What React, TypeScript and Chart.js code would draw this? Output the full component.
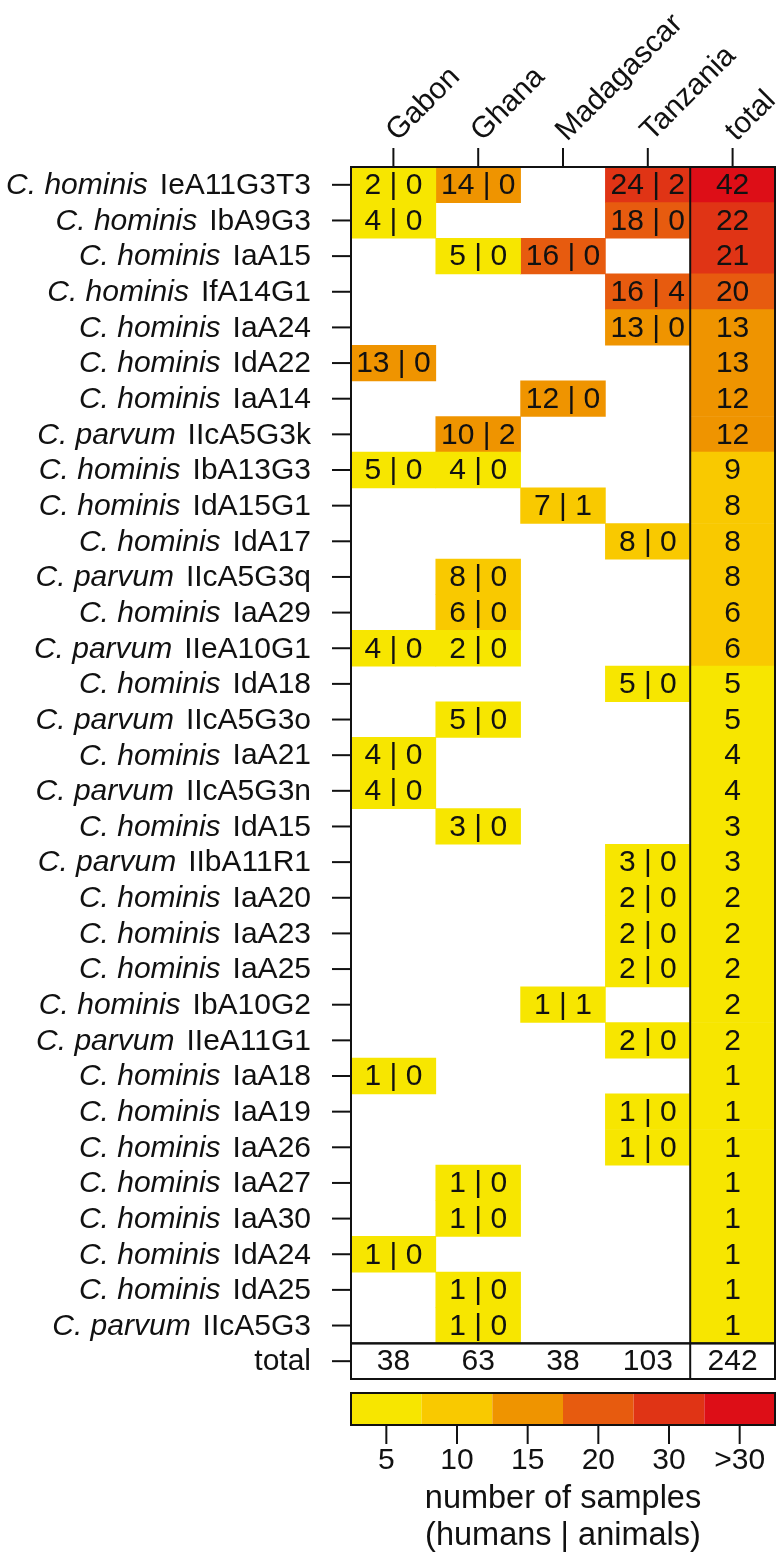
import React, { useEffect, useRef } from "react";
import { Chart, registerables } from "chart.js";

Chart.register(...registerables);

const _ = null;

const species = [
  "C. hominis", "C. hominis", "C. hominis", "C. hominis", "C. hominis", "C. hominis",
  "C. hominis", "C. parvum", "C. hominis", "C. hominis", "C. hominis", "C. parvum",
  "C. hominis", "C. parvum", "C. hominis", "C. parvum", "C. hominis", "C. parvum",
  "C. hominis", "C. parvum", "C. hominis", "C. hominis", "C. hominis", "C. hominis",
  "C. parvum", "C. hominis", "C. hominis", "C. hominis", "C. hominis", "C. hominis",
  "C. hominis", "C. hominis", "C. parvum",
];

const strains = [
  "IeA11G3T3", "IbA9G3", "IaA15", "IfA14G1", "IaA24", "IdA22",
  "IaA14", "IIcA5G3k", "IbA13G3", "IdA15G1", "IdA17", "IIcA5G3q",
  "IaA29", "IIeA10G1", "IdA18", "IIcA5G3o", "IaA21", "IIcA5G3n",
  "IdA15", "IIbA11R1", "IaA20", "IaA23", "IaA25", "IbA10G2",
  "IIeA11G1", "IaA18", "IaA19", "IaA26", "IaA27", "IaA30",
  "IdA24", "IdA25", "IIcA5G3",
];

const countries = ["Gabon", "Ghana", "Madagascar", "Tanzania"];

// [humans, animals] per strain row
const gabon = [
  [2, 0], [4, 0], _, _, _, [13, 0],
  _, _, [5, 0], _, _, _,
  _, [4, 0], _, _, [4, 0], [4, 0],
  _, _, _, _, _, _,
  _, [1, 0], _, _, _, _,
  [1, 0], _, _,
];
const ghana = [
  [14, 0], _, [5, 0], _, _, _,
  _, [10, 2], [4, 0], _, _, [8, 0],
  [6, 0], [2, 0], _, [5, 0], _, _,
  [3, 0], _, _, _, _, _,
  _, _, _, _, [1, 0], [1, 0],
  _, [1, 0], [1, 0],
];
const madagascar = [
  _, _, [16, 0], _, _, _,
  [12, 0], _, _, [7, 1], _, _,
  _, _, _, _, _, _,
  _, _, _, _, _, [1, 1],
  _, _, _, _, _, _,
  _, _, _,
];
const tanzania = [
  [24, 2], [18, 0], _, [16, 4], [13, 0], _,
  _, _, _, _, [8, 0], _,
  _, _, [5, 0], _, _, _,
  _, [3, 0], [2, 0], [2, 0], [2, 0], _,
  [2, 0], _, [1, 0], [1, 0], _, _,
  _, _, _,
];

const rowTotals = [
  42, 22, 21, 20, 13, 13,
  12, 12, 9, 8, 8, 8,
  6, 6, 5, 5, 4, 4,
  3, 3, 2, 2, 2, 2,
  2, 1, 1, 1, 1, 1,
  1, 1, 1,
];
const columnTotals = [38, 63, 38, 103, 242];

const binEdges = [5, 10, 15, 20, 30];
const binLabels = ["5", "10", "15", "20", "30", ">30"];
const binColors = ["#F7E600", "#F9C900", "#EF9400", "#E75B0F", "#E03415", "#DD0E17"];

const FONT = '"Liberation Sans", Arial, Helvetica, sans-serif';
const FS = 30;

function colorFor(v: number) {
  for (let i = 0; i < binEdges.length; i++) if (v <= binEdges[i]) return binColors[i];
  return binColors[binColors.length - 1];
}

const overlayPlugin = {
  id: "overlay",
  afterDatasetsDraw(chart: any) {
    const { ctx } = chart;
    const x = chart.scales.x;
    const y = chart.scales.y;
    const nRows = strains.length;
    const rowH = y.getPixelForValue(1) - y.getPixelForValue(0);
    const gridTop = y.getPixelForValue(0) - rowH / 2;
    const gridBottom = y.getPixelForValue(nRows - 1) + rowH / 2;
    const totalBottom = gridBottom + rowH;
    const left = x.getPixelForValue(0);
    const right = x.getPixelForValue(5);
    const sep = x.getPixelForValue(4);

    ctx.save();
    ctx.fillStyle = "#111";
    ctx.textAlign = "center";
    ctx.textBaseline = "middle";
    ctx.font = `${FS}px ${FONT}`;
    const cols = [gabon, ghana, madagascar, tanzania];
    cols.forEach((col, c) => {
      col.forEach((v, i) => {
        if (!v) return;
        ctx.fillText(`${v[0]} | ${v[1]}`, x.getPixelForValue(c + 0.5), y.getPixelForValue(i) + 1);
      });
    });
    rowTotals.forEach((t, i) => {
      ctx.fillText(String(t), x.getPixelForValue(4.5), y.getPixelForValue(i) + 1);
    });
    columnTotals.forEach((t, c) => {
      ctx.fillText(String(t), x.getPixelForValue(c + 0.5), y.getPixelForValue(nRows) + 1);
    });

    // borders
    ctx.strokeStyle = "#111";
    ctx.lineWidth = 2;
    ctx.strokeRect(left, gridTop, right - left, gridBottom - gridTop);
    ctx.strokeRect(left, gridBottom, right - left, rowH);
    ctx.beginPath();
    ctx.moveTo(sep, gridTop);
    ctx.lineTo(sep, totalBottom);
    ctx.stroke();

    // row ticks and labels
    ctx.textAlign = "right";
    for (let i = 0; i <= nRows; i++) {
      const yc = y.getPixelForValue(i);
      ctx.beginPath();
      ctx.moveTo(left - 19, yc);
      ctx.lineTo(left, yc);
      ctx.stroke();
      const rx = left - 40;
      if (i === nRows) {
        ctx.font = `${FS}px ${FONT}`;
        ctx.fillText("total", rx, yc + 1);
      } else {
        ctx.font = `${FS}px ${FONT}`;
        const w = ctx.measureText(strains[i]).width;
        ctx.fillText(strains[i], rx, yc + 1);
        ctx.font = `italic ${FS}px ${FONT}`;
        ctx.fillText(species[i], rx - w - 12, yc + 1);
      }
    }

    // column ticks and rotated labels
    const colLabels = [...countries, "total"];
    ctx.font = `${FS}px ${FONT}`;
    ctx.textAlign = "left";
    ctx.textBaseline = "alphabetic";
    colLabels.forEach((lab, c) => {
      const xc = x.getPixelForValue(c + 0.5);
      ctx.beginPath();
      ctx.moveTo(xc, gridTop - 19);
      ctx.lineTo(xc, gridTop);
      ctx.stroke();
      ctx.save();
      ctx.translate(xc + 4, gridTop - 25);
      ctx.rotate(-Math.PI / 4);
      ctx.fillText(lab, 0, 0);
      ctx.restore();
    });

    // legend colour bar
    const lTop = totalBottom + 14;
    const lH = 32;
    const nb = binColors.length;
    for (let k = 0; k < nb; k++) {
      const x0 = x.getPixelForValue((k * 5) / nb);
      const x1 = x.getPixelForValue(((k + 1) * 5) / nb);
      ctx.fillStyle = binColors[k];
      ctx.fillRect(x0, lTop, x1 - x0, lH);
    }
    ctx.strokeRect(left, lTop, right - left, lH);
    ctx.fillStyle = "#111";
    ctx.textAlign = "center";
    ctx.textBaseline = "middle";
    ctx.font = `${FS}px ${FONT}`;
    for (let k = 0; k < nb; k++) {
      const xc = x.getPixelForValue(((k + 0.5) * 5) / nb);
      ctx.beginPath();
      ctx.moveTo(xc, lTop + lH);
      ctx.lineTo(xc, lTop + lH + 19);
      ctx.stroke();
      ctx.fillText(binLabels[k], xc, lTop + lH + 36);
    }
    const midX = (left + right) / 2;
    ctx.font = `32.5px ${FONT}`;
    ctx.fillText("number of samples", midX, lTop + lH + 74);
    ctx.fillText("(humans | animals)", midX, lTop + lH + 111);
    ctx.restore();
  },
};

export default function App() {
  const ref = useRef<HTMLCanvasElement | null>(null);
  useEffect(() => {
    if (!ref.current) return;
    const cols = [gabon, ghana, madagascar, tanzania];
    const yLabels = [...strains.map((s, i) => `${species[i]} ${s}`), "total"];
    const datasets: any[] = cols.map((col, c) => ({
      label: countries[c],
      data: [...col.map((v) => (v ? [c, c + 1] : null)), null],
      backgroundColor: [...col.map((v) => (v ? colorFor(v[0] + v[1]) : "rgba(0,0,0,0)")), "rgba(0,0,0,0)"],
      grouped: false,
      barPercentage: 1,
      categoryPercentage: 1,
      borderWidth: 0,
    }));
    datasets.push({
      label: "total",
      data: [...rowTotals.map(() => [4, 5]), null],
      backgroundColor: [...rowTotals.map((t) => colorFor(t)), "rgba(0,0,0,0)"],
      grouped: false,
      barPercentage: 1,
      categoryPercentage: 1,
      borderWidth: 0,
    });
    const chart = new Chart(ref.current, {
      type: "bar",
      data: { labels: yLabels, datasets },
      options: {
        indexAxis: "y",
        animation: false,
        responsive: false,
        maintainAspectRatio: false,
        layout: { padding: { left: 351, right: 5, top: 167, bottom: 179 } },
        scales: {
          x: { type: "linear", min: 0, max: 5, display: false },
          y: { type: "category", display: false, offset: true },
        },
        plugins: { legend: { display: false }, tooltip: { enabled: false } },
      } as any,
      plugins: [overlayPlugin],
    });
    return () => chart.destroy();
  }, []);
  return (
    <div style={{ position: "absolute", left: 0, top: 0, width: 780, height: 1558, background: "#fff" }}>
      <canvas ref={ref} width={780} height={1558} style={{ width: 780, height: 1558 }} />
    </div>
  );
}
